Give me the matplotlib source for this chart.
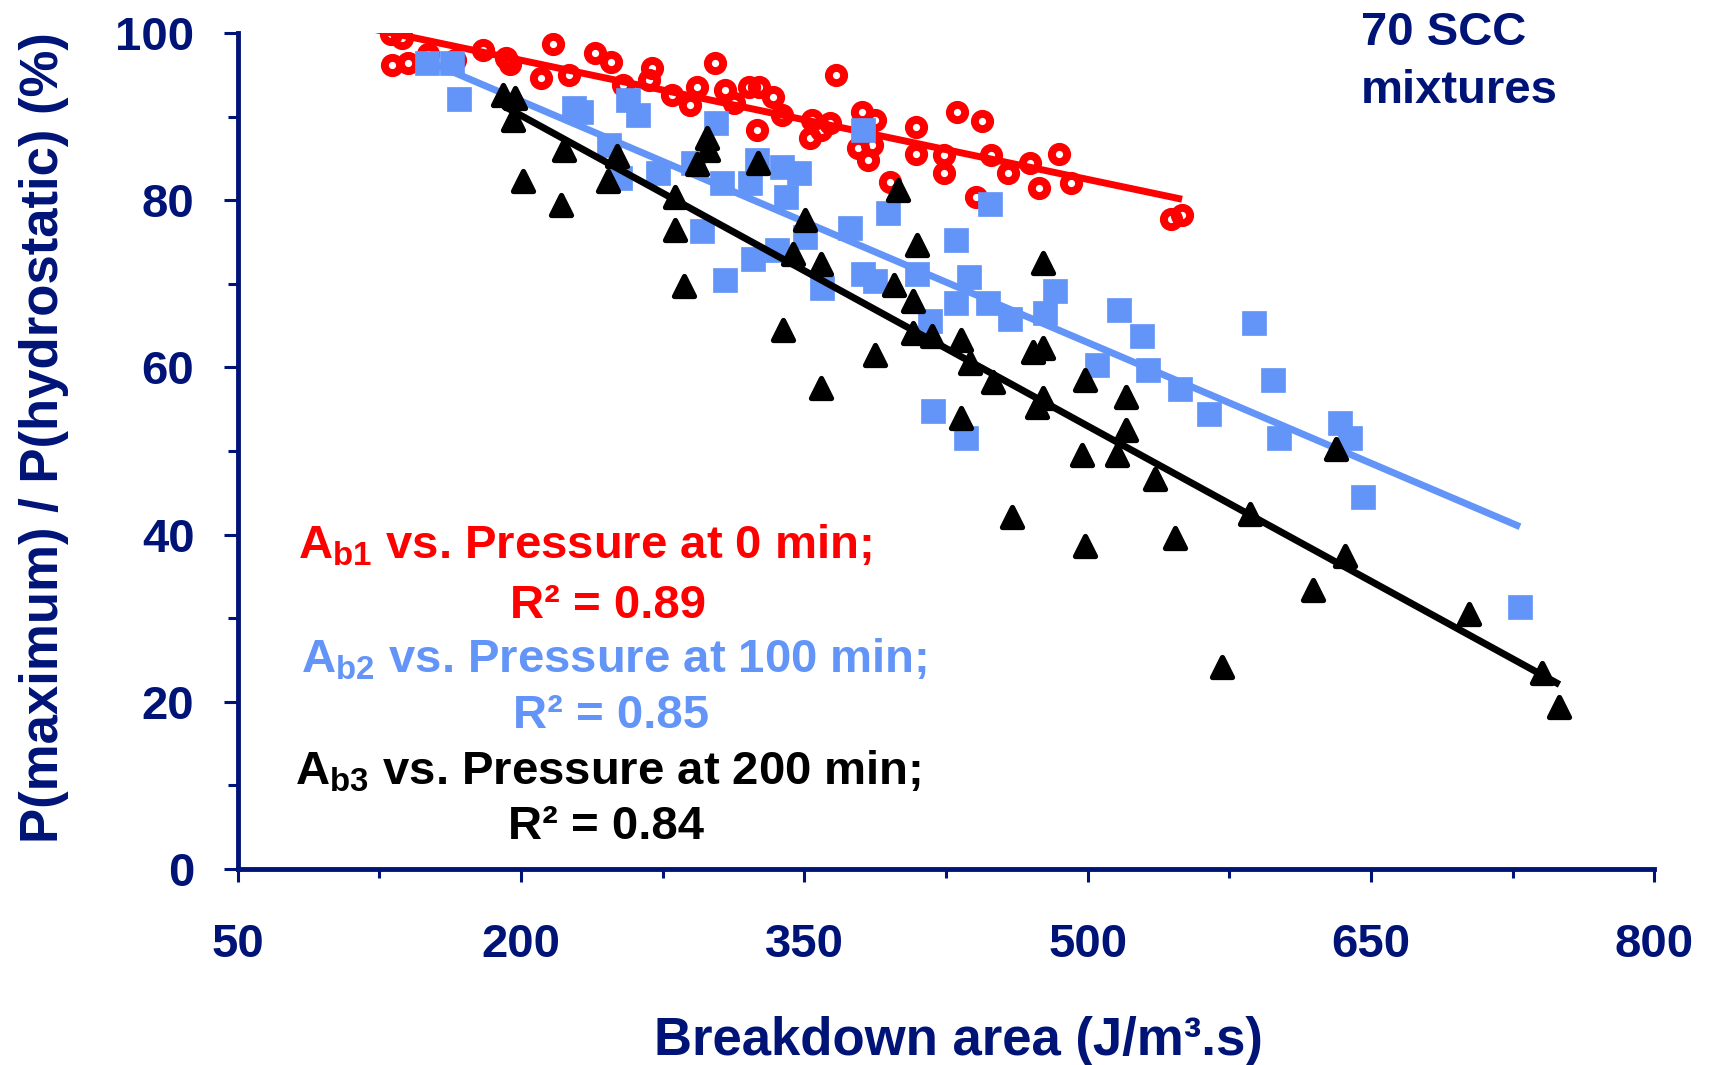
import numpy as np
import matplotlib.pyplot as plt
from matplotlib.markers import MarkerStyle
from matplotlib.ticker import FixedLocator

plt.rcParams['font.family'] = ['Liberation Sans', 'DejaVu Sans']
plt.rcParams['font.weight'] = 'bold'
plt.rcParams['mathtext.fontset'] = 'custom'
plt.rcParams['mathtext.rm'] = 'Liberation Sans:bold'
plt.rcParams['mathtext.it'] = 'Liberation Sans:bold'
plt.rcParams['mathtext.bf'] = 'Liberation Sans:bold'

NAVY = '#001478'
RED = '#FF0000'
BLUE = '#6394F8'
BLACK = '#000000'

# Ab1 - pressure at 0 min
red_x = [131, 137, 132, 140, 151, 165, 180, 192, 194, 217, 210.5, 225.7, 239.3, 247.6,
         269.3, 268, 303, 254, 280, 289.5, 293, 308, 313, 321, 326, 325, 333.6, 338,
         367, 354, 353, 363.6, 359, 380.4, 387.5, 378.6, 385.7, 384, 395.4, 409, 409,
         424, 424, 431, 444, 441, 449, 457.7, 469.5, 474.5, 484.7, 491, 544, 550]
red_y = [99.9, 99.4, 96.2, 96.4, 97.5, 96.8, 98.0, 97.0, 96.3, 98.7, 94.6, 95.0, 97.6, 96.5,
         95.8, 94.4, 96.4, 93.8, 92.6, 91.4, 93.6, 93.2, 91.6, 93.6, 93.6, 88.4, 92.4, 90.2,
         95.0, 89.6, 87.4, 89.2, 88.4, 90.6, 89.6, 86.2, 86.6, 84.8, 82.2, 88.8, 85.5,
         85.4, 83.2, 90.6, 89.5, 80.4, 85.4, 83.2, 84.4, 81.5, 85.5, 82.1, 77.8, 78.2]

# Ab2 - pressure at 100 min
blue_x = [150.2, 163.4, 167.3, 228.1, 231.7, 256.9, 262.2, 246.7, 252.5, 272.8, 303.1,
          291.3, 306.3, 321.3, 324.9, 296.1, 323.1, 308.1, 381.3, 338.1, 347.4, 340.4,
          394.5, 374.2, 448.3, 430.4, 350.4, 335.4, 359.3, 381.3, 387.5, 409.6, 416.6,
          430.4, 437.2, 447.5, 459, 482.8, 477.5, 516.8, 528.7, 504.9, 532.2, 588.3,
          598.3, 549, 564.3, 601.5, 633.6, 638.9, 645.9, 728.9, 418.4, 435.5]
blue_y = [96.4, 96.4, 92.1, 91.0, 90.6, 92.0, 90.2, 86.6, 82.6, 83.2, 89.2,
          84.4, 82.1, 82.1, 84.8, 76.3, 73.0, 70.5, 88.4, 84.0, 83.3, 80.4,
          78.5, 76.7, 79.6, 75.2, 75.6, 74.0, 69.5, 71.2, 70.3, 71.2, 65.5,
          67.7, 70.8, 67.7, 65.8, 69.1, 66.5, 66.9, 63.7, 60.3, 59.7, 65.3,
          58.5, 57.4, 54.4, 51.5, 53.3, 51.5, 44.5, 31.4, 54.8, 51.5]

# Ab3 - pressure at 200 min
black_x = [190.7, 196.9, 196, 201, 222.8, 221.1, 251.1, 246.3, 281.6, 281.6, 286.5,
           298.7, 299.2, 293.4, 325.7, 399.5, 350.4, 343.9, 358.9, 409.6, 476.6, 338.9,
           397.5, 407.8, 387.5, 407.8, 417.8, 432.8, 437.8, 471.3, 476.6, 358.9, 449.8,
           432.8, 476.6, 473.1, 498.7, 520.4, 520.4, 496.9, 515.4, 535.7, 459.8, 498.7,
           631.5, 586, 546.3, 636.3, 619.5, 571, 702.1, 740.4, 749.8]
black_y = [92.6, 92.2, 89.6, 82.3, 86.0, 79.4, 85.3, 82.3, 80.4, 76.4, 69.7,
           87.4, 86.0, 84.3, 84.4, 81.2, 77.6, 73.6, 72.4, 74.6, 72.5, 64.5,
           69.9, 67.9, 61.5, 64.1, 63.7, 63.3, 60.5, 61.9, 62.3, 57.5, 58.3,
           53.9, 56.3, 55.3, 58.5, 56.5, 52.5, 49.5, 49.5, 46.6, 42.1, 38.6,
           50.2, 42.5, 39.6, 37.4, 33.4, 24.2, 30.5, 23.5, 19.4]

x_major = [50, 200, 350, 500, 650, 800]
x_minor = [125, 275, 425, 575, 725]
y_major = [0, 20, 40, 60, 80, 100]
y_minor = [10, 30, 50, 70, 90]

legend_lines = [
    (r'A$_{\mathrm{b1}}$ vs. Pressure at 0 min;', RED),
    ('R² = 0.89', RED),
    (r'A$_{\mathrm{b2}}$ vs. Pressure at 100 min;', BLUE),
    ('R² = 0.85', BLUE),
    (r'A$_{\mathrm{b3}}$ vs. Pressure at 200 min;', BLACK),
    ('R² = 0.84', BLACK),
]

W, H = 1709, 1065
fig = plt.figure(figsize=(W / 100, H / 100), dpi=100)
ax = fig.add_axes([0.139, 0.184, 0.829, 0.785])


def trend(x, y, back=0.0):
    k, b = np.polyfit(x, y, 1)
    xs = np.array([min(x) - back, max(x)])
    return xs, k * xs + b


# red circles
ax.plot(red_x, red_y, ls='none', marker='o', ms=11, mfc='none', mec=RED, mew=5.7, zorder=3)
xs, ys = trend(red_x, red_y, back=9)
ax.plot(xs, ys, color=RED, lw=5, solid_capstyle='butt', zorder=3)

# blue squares
ax.plot(blue_x, blue_y, ls='none', marker='s', ms=17, mfc=BLUE, mec=BLUE, mew=0.5, zorder=4)
xs, ys = trend(blue_x, blue_y, back=5)
ax.plot(xs, ys, color=BLUE, lw=5, solid_capstyle='butt', zorder=4)

# black triangles
tri = MarkerStyle('^', joinstyle='round')
ax.plot(black_x, black_y, ls='none', marker=tri, ms=15, mfc=BLACK, mec=BLACK, mew=3.8, zorder=5)
xs, ys = trend(black_x, black_y)
ax.plot(xs, ys, color=BLACK, lw=5, solid_capstyle='butt', zorder=5)

ax.set_xlim(50, 800)
ax.set_ylim(0, 100)
ax.xaxis.set_major_locator(FixedLocator(x_major))
ax.xaxis.set_minor_locator(FixedLocator(x_minor))
ax.yaxis.set_major_locator(FixedLocator(y_major))
ax.yaxis.set_minor_locator(FixedLocator(y_minor))

for side in ['top', 'right']:
    ax.spines[side].set_visible(False)
for side in ['left', 'bottom']:
    ax.spines[side].set_color(NAVY)
    ax.spines[side].set_linewidth(3.5)
    ax.spines[side].set_zorder(6)

ax.tick_params(axis='x', which='major', length=9, width=2.2, color=NAVY, pad=30,
               labelsize=34, labelcolor=NAVY)
ax.tick_params(axis='x', which='minor', length=6.5, width=2.2, color=NAVY)
ax.tick_params(axis='y', which='major', length=10, width=2.2, color=NAVY, pad=21,
               labelsize=34, labelcolor=NAVY)
ax.tick_params(axis='y', which='minor', length=7, width=2.2, color=NAVY)

ax.set_xlabel('Breakdown area (J/m³.s)', fontsize=38, color=NAVY, fontweight='bold')
ax.set_ylabel('P(maximum) / P(hydrostatic) (%)', fontsize=38, color=NAVY, fontweight='bold')
ax.xaxis.set_label_coords(0.509, -0.176)
ax.yaxis.set_label_coords(-0.119, 0.516)

# series descriptions (pixel positions of the baseline centres)
text_pos = [(585, 559), (608, 618), (614, 672), (611, 728), (608, 785), (606, 839)]
for (txt, col), (px, py) in zip(legend_lines, text_pos):
    fig.text(px / W, 1 - py / H, txt, color=col, fontsize=34, fontweight='bold',
             ha='center', va='baseline')

fig.text(1361 / W, 1 - 45 / H, '70 SCC', color=NAVY, fontsize=34, fontweight='bold',
         ha='left', va='baseline')
fig.text(1361 / W, 1 - 103 / H, 'mixtures', color=NAVY, fontsize=34, fontweight='bold',
         ha='left', va='baseline')

fig.savefig('out.png', dpi=100)
